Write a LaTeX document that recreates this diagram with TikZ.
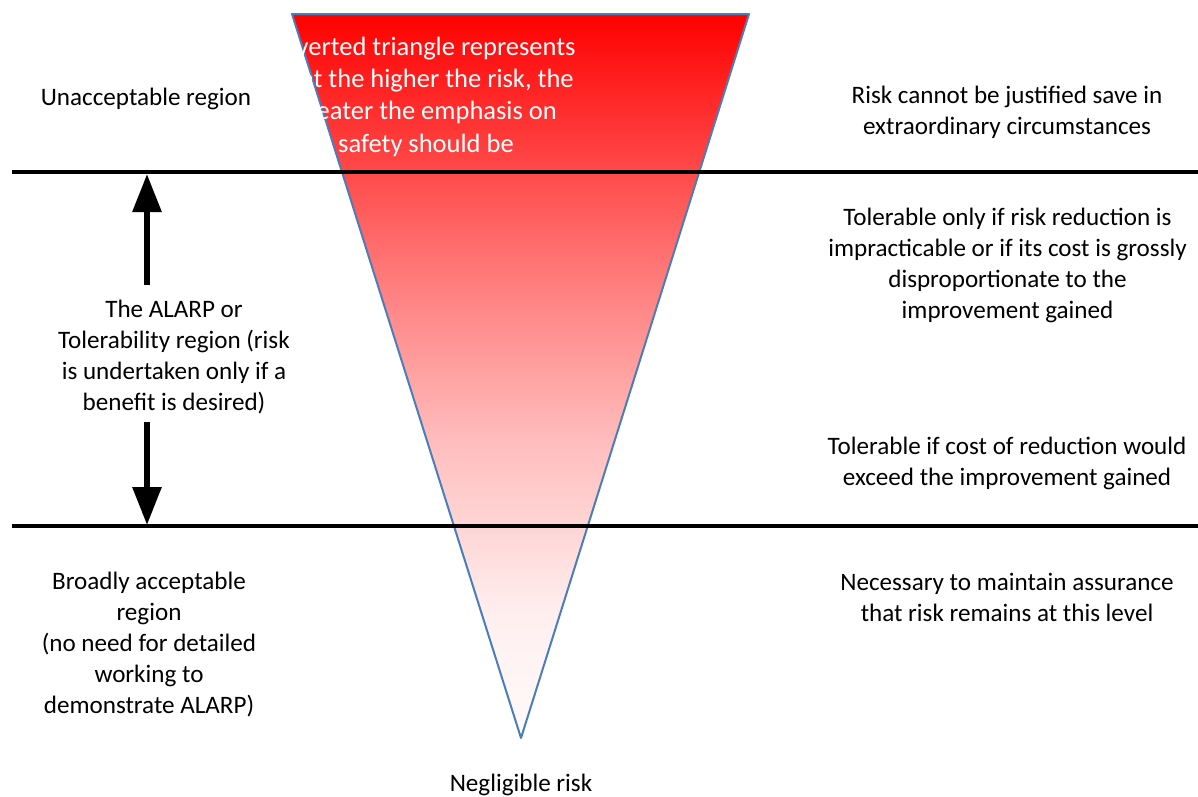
\documentclass[tikz,border=0pt]{standalone}
\usepackage{fontspec}
\setmainfont{Carlito}
\usetikzlibrary{arrows.meta}
\definecolor{triedge}{HTML}{4A7EBB}
\pgfdeclareverticalshading{trishade}{100bp}{color(0bp)=(red!2); color(25bp)=(red!2); color(33.15bp)=(red!6); color(45.58bp)=(red!26); color(57.32bp)=(red!53); color(75bp)=(red); color(100bp)=(red)}
\begin{document}
\begin{tikzpicture}[x=1pt,y=-1pt,
  txt/.style={font=\fontsize{25.1}{31}\selectfont, align=center, inner sep=0pt},
  wtxt/.style={align=center, inner sep=0pt, font=\fontsize{26.5}{32.3}\selectfont, text=white},
  band/.style={line width=4pt, black},
  bigarrow/.style={line width=6pt, -{Triangle[width=28pt,length=38pt]}}]
\useasboundingbox (0,0) rectangle (1198,796);
\coordinate (tl) at (292,14);
\coordinate (tr) at (749,14);
\coordinate (ap) at (521,738);
\begin{scope}
  \clip (tl) -- (tr) -- (ap) -- cycle;
  \shade[shading=trishade] (292,14) rectangle (749,738);
\end{scope}
\draw[triedge, line width=2pt, line join=round] (tl) -- (tr) -- (ap) -- cycle;
\node[wtxt] (tri) at (426,96.5) {Inverted triangle represents\\that the higher the risk, the\\greater the emphasis on\\safety should be};
\coordinate (l1a) at (12,172); \coordinate (l1b) at (1198,172);
\coordinate (l2a) at (12,526); \coordinate (l2b) at (1198,526);
\draw[band] (l1a) -- (l1b);
\draw[band] (l2a) -- (l2b);
\coordinate (upS) at (147,285); \coordinate (upE) at (147,174);
\coordinate (dnS) at (147,422); \coordinate (dnE) at (147,525);
\draw[bigarrow] (upS) -- (upE);
\draw[bigarrow] (dnS) -- (dnE);
\node[txt] (unacc) at (146,99) {Unacceptable region};
\node[txt] (alarp) at (174,357) {The ALARP or\\Tolerability region (risk\\is undertaken only if a\\benefit is desired)};
\node[txt] (broad) at (149,644.5) {Broadly acceptable\\region\\(no need for detailed\\working to\\demonstrate ALARP)};
\node[txt] (r1) at (1007,112) {Risk cannot be justified save in\\extraordinary circumstances};
\node[txt] (r2) at (1007.5,265.5) {Tolerable only if risk reduction is\\impracticable or if its cost is grossly\\disproportionate to the\\improvement gained};
\node[txt] (r3) at (1007,463) {Tolerable if cost of reduction would\\exceed the improvement gained};
\node[txt] (r4) at (1007,597) {Necessary to maintain assurance\\that risk remains at this level};
\node[txt] (neg) at (521,785) {Negligible risk};
\end{tikzpicture}
\end{document}
